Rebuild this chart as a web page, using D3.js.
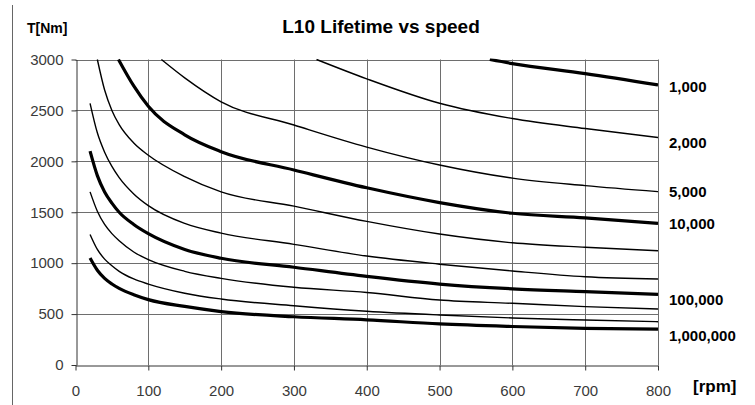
<!DOCTYPE html>
<html>
<head>
<meta charset="utf-8">
<script src="https://cdn.jsdelivr.net/npm/d3@7"></script>
<style>
  body { margin: 0; background: #fff; }
  text { font-family: "Liberation Sans", Arial, sans-serif; }
</style>
</head>
<body>
<div id="chart"></div>
<script>
// Taille de la page
const width = 755;
const height = 405;

// Ticks des axes
const xTicks = [0, 100, 200, 300, 400, 500, 600, 700, 800];
const yTicks = [0, 500, 1000, 1500, 2000, 2500, 3000];

// Courbes L10 : [vitesse rpm, couple Nm]
const c1k = [[569, 3000], [600, 2960], [700, 2862], [800, 2750]];
const c2k = [[331, 3000], [400, 2810], [500, 2570], [600, 2420], [700, 2322], [800, 2234]];
const c5k = [[118, 3000], [150, 2820], [200, 2585], [300, 2357], [400, 2140], [500, 1964], [600, 1835], [700, 1761], [800, 1702]];
const c10k = [[59, 3000], [80, 2740], [100, 2540], [150, 2260], [200, 2095], [300, 1915], [400, 1740], [500, 1595], [600, 1490], [700, 1445], [800, 1390]];
const c20k = [[30, 3000], [40, 2700], [50, 2500], [60, 2360], [80, 2180], [100, 2060], [150, 1850], [200, 1700], [300, 1560], [400, 1410], [500, 1286], [600, 1200], [700, 1156], [800, 1122]];
const c50k = [[20, 2570], [30, 2280], [40, 2090], [50, 1950], [60, 1840], [80, 1680], [100, 1565], [150, 1390], [200, 1295], [300, 1185], [400, 1070], [500, 990], [600, 923], [700, 867], [800, 845]];
const c100k = [[20, 2100], [30, 1860], [40, 1700], [50, 1590], [60, 1500], [80, 1380], [100, 1290], [150, 1135], [200, 1048], [300, 960], [400, 870], [500, 795], [600, 748], [700, 720], [800, 694]];
const c200k = [[20, 1700], [30, 1510], [40, 1380], [50, 1290], [60, 1220], [80, 1110], [100, 1035], [150, 920], [200, 851], [300, 763], [400, 712], [500, 638], [600, 606], [700, 573], [800, 550]];
const c500k = [[20, 1282], [30, 1135], [40, 1040], [50, 975], [60, 920], [80, 845], [100, 795], [150, 705], [200, 648], [300, 582], [400, 528], [500, 491], [600, 462], [700, 442], [800, 425]];
const c1m = [[20, 1050], [30, 930], [40, 850], [50, 795], [60, 752], [80, 690], [100, 642], [150, 575], [200, 525], [300, 474], [400, 444], [500, 403], [600, 378], [700, 360], [800, 353]];

const curves = [c1k, c2k, c5k, c10k, c20k, c50k, c100k, c200k, c500k, c1m];
const thick = [true, false, false, true, false, false, true, false, false, true];

// Etiquettes de droite (durée de vie) et leur hauteur en Nm
const labelText = ["1,000", "2,000", "5,000", "10,000", "100,000", "1,000,000"];
const labelT = [2730, 2180, 1705, 1385, 640, 290];

const svg = d3.select("#chart")
    .append("svg")
    .attr("width", width)
    .attr("height", height);

svg.append("rect").attr("width", width).attr("height", height).attr("fill", "#fff");

const x = d3.scaleLinear().domain([0, 800]).range([75.5, 658]);
const y = d3.scaleLinear().domain([0, 3000]).range([365, 59.5]);

// trait vertical à gauche
svg.append("line")
    .attr("x1", 12.5).attr("x2", 12.5)
    .attr("y1", 5).attr("y2", height)
    .attr("stroke", "#666").attr("stroke-width", 1);

// grille
svg.append("g").selectAll("line")
    .data(xTicks.slice(1))
    .join("line")
    .attr("x1", d => Math.round(x(d)) + 0.5).attr("x2", d => Math.round(x(d)) + 0.5)
    .attr("y1", y(0)).attr("y2", y(3000))
    .attr("stroke", "#6e6e6e");

svg.append("g").selectAll("line")
    .data(yTicks.slice(1))
    .join("line")
    .attr("y1", d => Math.round(y(d)) + 0.5).attr("y2", d => Math.round(y(d)) + 0.5)
    .attr("x1", x(0)).attr("x2", x(800))
    .attr("stroke", "#6e6e6e");

// axes
const yAxis = svg.append("g")
    .attr("transform", `translate(${Math.round(x(0)) + 0.5},0)`)
    .call(d3.axisLeft(y).tickValues(yTicks).tickFormat(d3.format("d"))
        .tickSize(5).tickSizeOuter(0).tickPadding(8));

const xAxis = svg.append("g")
    .attr("transform", `translate(0,${Math.round(y(0)) + 0.5})`)
    .call(d3.axisBottom(x).tickValues(xTicks).tickFormat(d3.format("d"))
        .tickSize(5).tickSizeOuter(0).tickPadding(15));

[yAxis, xAxis].forEach(function(a) {
    a.select(".domain").attr("stroke", "#333");
    a.selectAll(".tick line").attr("stroke", "#333");
    a.selectAll(".tick text")
        .attr("fill", "#3a3a3a")
        .style("font-size", "15px")
        .style("font-family", "'Liberation Sans', Arial, sans-serif");
});

// courbes
svg.append("clipPath").attr("id", "plot")
    .append("rect")
    .attr("x", x(0)).attr("y", y(3000) - 1)
    .attr("width", x(800) - x(0)).attr("height", y(0) - y(3000) + 1);

const line = d3.line()
    .x(d => x(d[0]))
    .y(d => y(d[1]))
    .curve(d3.curveMonotoneX);

svg.append("g")
    .attr("clip-path", "url(#plot)")
    .selectAll("path")
    .data(curves)
    .join("path")
    .attr("d", line)
    .attr("fill", "none")
    .attr("stroke", "#000")
    .attr("stroke-width", (d, i) => thick[i] ? 3.2 : 1.4)
    .attr("stroke-linejoin", "round");

// titre et unités
svg.append("text")
    .attr("x", 381).attr("y", 33)
    .attr("text-anchor", "middle")
    .style("font-size", "19px").style("font-weight", "bold")
    .text("L10 Lifetime vs speed");

svg.append("text")
    .attr("x", 27).attr("y", 33)
    .style("font-size", "14px").style("font-weight", "bold")
    .text("T[Nm]");

svg.append("text")
    .attr("x", 693).attr("y", 392)
    .style("font-size", "17px").style("font-weight", "bold")
    .text("[rpm]");

// étiquettes des courbes
svg.append("g").selectAll("text")
    .data(labelText)
    .join("text")
    .attr("x", x(800) + 11)
    .attr("y", (d, i) => y(labelT[i]))
    .attr("dy", "0.35em")
    .style("font-size", "15px").style("font-weight", "bold")
    .text(d => d);
</script>
</body>
</html>
